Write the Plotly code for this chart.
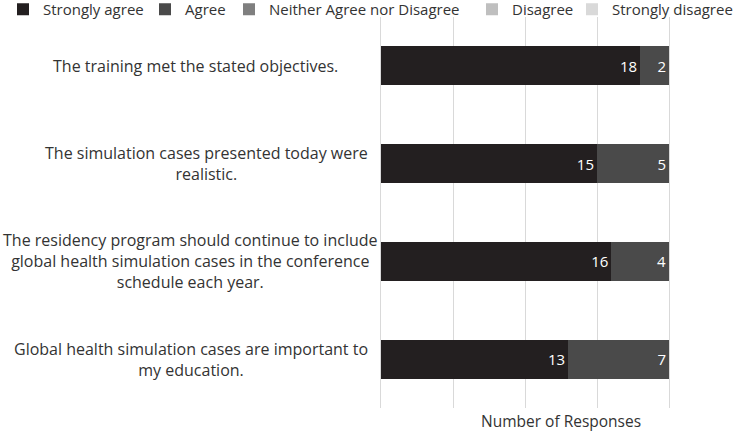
import plotly.graph_objects as go

statements = [
    "The training met the stated objectives.",
    "The simulation cases presented today were<br>realistic.",
    "The residency program should continue to include<br>global health simulation cases in the conference<br>schedule each year.",
    "Global health simulation cases are important to<br>my education.",
]
series_names = ["Strongly agree", "Agree", "Neither Agree nor Disagree", "Disagree", "Strongly disagree"]
strongly_agree = [18, 15, 16, 13]
agree = [2, 5, 4, 7]
neither = [0, 0, 0, 0]
disagree = [0, 0, 0, 0]
strongly_disagree = [0, 0, 0, 0]
colors = ["#231f20", "#4a4a4a", "#7f7f7f", "#bfbfbf", "#d9d9d9"]

FONT = "Open Sans"
W, H = 743, 432
L, R, T, B = 381, 74, 17, 24
PW = W - L - R
PH = H - T - B

cats = [f"c{i}" for i in range(len(statements))]
values = [strongly_agree, agree, neither, disagree, strongly_disagree]
legend_ids = ["legend", "legend2", "legend3", "legend4", "legend5"]
legend_left_px = [3, 145, 229, 472, 572]
label_center_px = [195, 206, 190, 191]

fig = go.Figure()
for name, vals, col, lid in zip(series_names, values, colors, legend_ids):
    fig.add_trace(go.Bar(
        y=cats, x=vals, name=name, orientation="h",
        marker=dict(color=col, line=dict(width=0)),
        text=[str(v) if v else "" for v in vals],
        textposition="inside", insidetextanchor="end",
        textfont=dict(color="white", size=15, family=FONT),
        width=0.4, legend=lid, showlegend=True,
    ))

for c, s, cx in zip(cats, statements, label_center_px):
    fig.add_annotation(x=(cx - L) / PW, xref="paper", y=c, yref="y", text=s,
                       showarrow=False, xanchor="center", yanchor="middle",
                       align="center", font=dict(size=16, family=FONT, color="#333333"))

fig.add_annotation(x=(561 - L) / PW, xref="paper", y=-(421 - 408) / PH, yref="paper",
                   text="Number of Responses", showarrow=False, yanchor="middle",
                   font=dict(size=15.5, family=FONT, color="#333333"))

legend_layout = {}
for lid, lx in zip(legend_ids, legend_left_px):
    legend_layout[lid] = dict(
        orientation="h", xref="paper", yref="paper",
        x=(lx - L) / PW, xanchor="left", y=1 + (T + 7) / PH, yanchor="top",
        font=dict(size=15, family=FONT, color="#333333"), itemwidth=30,
        bgcolor="rgba(0,0,0,0)",
    )

fig.update_layout(
    barmode="stack",
    width=W, height=H,
    margin=dict(l=L, r=R, t=T, b=B, autoexpand=False),
    plot_bgcolor="white", paper_bgcolor="white",
    font=dict(family=FONT, size=15, color="#333333"),
    xaxis=dict(range=[0, 20], tickvals=[0, 5, 10, 15, 20], showticklabels=False,
               showgrid=True, gridcolor="#d9d9d9", gridwidth=1, zeroline=False,
               showline=False, fixedrange=True),
    yaxis=dict(categoryorder="array", categoryarray=cats[::-1], showticklabels=False,
               showgrid=False, zeroline=False, showline=True, mirror=True,
               linecolor="#d9d9d9", linewidth=1, layer="below traces"),
    **legend_layout,
)

fig.write_html("out.html")
